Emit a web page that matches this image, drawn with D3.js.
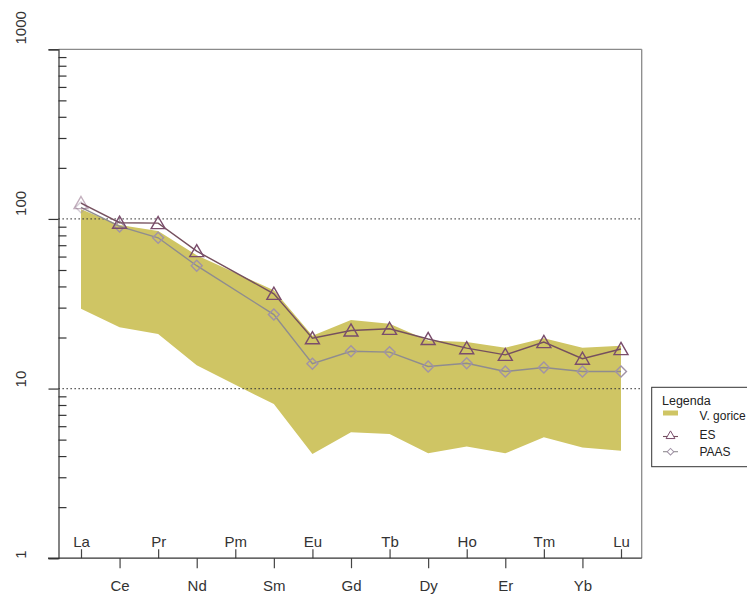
<!DOCTYPE html>
<html>
<head>
<meta charset="utf-8">
<script src="https://cdn.jsdelivr.net/npm/d3@7"></script>
<style>
  html, body { margin: 0; padding: 0; background: #fff; }
  svg { display: block; }
  text { font-family: "Liberation Sans", Arial, sans-serif; }
</style>
</head>
<body>
<svg id="chart" width="747" height="594"></svg>
<script>
// ---- data ----
const elements = ["La","Ce","Pr","Nd","Pm","Sm","Eu","Gd","Tb","Dy","Ho","Er","Tm","Yb","Lu"];
const esValues   = [124, 95, 94.5, 64.6, null, 36.2, 19.8, 22.0, 22.5, 19.6, 17.3, 15.8, 18.8, 15.0, 17.1];
const paasValues = [117, 90.3, 77.4, 53.0, null, 27.3, 14.0, 16.6, 16.4, 13.5, 14.1, 12.6, 13.3, 12.6, 12.6];
const bandMax    = [114, 92, 85, 61, null, 38, 20.5, 25.4, 24.1, 19.2, 18.8, 17.4, 19.8, 17.4, 17.9];
const bandMin    = [29.5, 23.0, 21.0, 13.7, null, 8.1, 4.12, 5.52, 5.4, 4.15, 4.55, 4.15, 5.16, 4.5, 4.3];
const yMajorTicks = [1, 10, 100, 1000];
const refLines = [10, 100];
const legendLabels = ["V. gorice", "ES", "PAAS"];
const legendTitle = "Legenda";

// ---- layout ----
const L = 58.5, R = 641.7, T = 49.3, B = 558.2;
const svg = d3.select("#chart");

const x = d3.scalePoint().domain(elements).range([81, 621]);
const y = d3.scaleLog().domain([1, 1000]).range([B, T]);

const bandColor = "#cfc564";
const esColor = "#75505e";
const esMarker = "#7a4d6c";
const paasColor = "#8f8c8f";
const paasMarker = "#a193a6";

const triSym = d3.symbol().type(d3.symbolTriangle);
const sqSym = d3.symbol().type(d3.symbolSquare);

// ---- band ----
const bandData = elements.map((e, i) => ({e, lo: bandMin[i], hi: bandMax[i]})).filter(d => d.lo != null);
svg.append("path")
  .datum(bandData)
  .attr("fill", bandColor)
  .attr("d", d3.area().x(d => x(d.e)).y0(d => y(d.lo)).y1(d => y(d.hi)));

// ---- reference dotted lines ----
svg.selectAll(".ref").data(refLines).enter().append("line")
  .attr("x1", L).attr("x2", R)
  .attr("y1", d => y(d)).attr("y2", d => y(d))
  .attr("stroke", "#3a3a3a").attr("stroke-width", 1.2)
  .attr("stroke-dasharray", "1.3,2.7");

// ---- series ----
function series(values, lineColor, markerColor, kind) {
  const pts = elements.map((e, i) => ({e, v: values[i], i})).filter(d => d.v != null);
  svg.append("path").datum(pts)
    .attr("fill", "none").attr("stroke", lineColor).attr("stroke-width", 1.4)
    .attr("d", d3.line().x(d => x(d.e)).y(d => y(d.v)));
  svg.selectAll(null).data(pts).enter().append("path")
    .attr("d", kind === "tri" ? triSym.size(85)() : sqSym.size(60)())
    .attr("transform", d => kind === "tri"
      ? `translate(${x(d.e)},${y(d.v) + 1.5})`
      : `translate(${x(d.e)},${y(d.v)}) rotate(45)`)
    .attr("fill", "none")
    .attr("stroke", markerColor)
    .attr("stroke-width", 1.4)
    .attr("opacity", d => d.i === 0 ? 0.45 : 1);
}
series(paasValues, paasColor, paasMarker, "dia");
series(esValues, esColor, esMarker, "tri");

// ---- frame ----
svg.append("line").attr("x1", L).attr("x2", R).attr("y1", T).attr("y2", T).attr("stroke", "#8a8a8a").attr("stroke-width", 1.3);
svg.append("line").attr("x1", R).attr("x2", R).attr("y1", T).attr("y2", B).attr("stroke", "#8a8a8a").attr("stroke-width", 1.3);

// ---- y axis ----
const minorTicks = [];
[1, 10, 100].forEach(dec => { for (let k = 2; k <= 9; k++) minorTicks.push(dec * k); });
const yAxisMajor = svg.append("g").attr("transform", `translate(${L},0)`)
  .call(d3.axisLeft(y).tickValues(yMajorTicks).tickSize(10).tickFormat(d3.format("d")));
yAxisMajor.select(".domain").attr("stroke", "#333").attr("stroke-width", 1.2);
yAxisMajor.selectAll(".tick line").attr("stroke", "#333").attr("stroke-width", 1.2);
yAxisMajor.selectAll(".tick text")
  .attr("font-size", 15).attr("fill", "#333")
  .attr("text-anchor", "middle")
  .attr("x", 0).attr("dy", 0)
  .attr("transform", function(d) {
    const len = String(d).length;
    return `translate(${-L + 26},${-(6 * len - 2)}) rotate(-90)`;
  });
const yAxisMinor = svg.append("g").attr("transform", `translate(${L},0)`)
  .call(d3.axisRight(y).tickValues(minorTicks).tickSize(8).tickFormat(""));
yAxisMinor.select(".domain").remove();
yAxisMinor.selectAll(".tick line").attr("stroke", "#333").attr("stroke-width", 1.2);

// ---- x axis ----
const upper = elements.filter((e, i) => i % 2 === 0);
const lower = elements.filter((e, i) => i % 2 === 1);
const xAxisUp = svg.append("g").attr("transform", `translate(0,${B})`)
  .call(d3.axisTop(x).tickValues(upper).tickSize(9).tickPadding(2));
xAxisUp.select(".domain").remove();
xAxisUp.selectAll(".tick line").attr("stroke", "#444").attr("stroke-width", 1.2);
xAxisUp.selectAll(".tick text").attr("font-size", 15).attr("fill", "#333");

const xAxisDown = svg.append("g").attr("transform", `translate(0,${B})`)
  .call(d3.axisBottom(x).tickValues(lower).tickSize(10).tickPadding(12));
xAxisDown.select(".domain").remove();
xAxisDown.selectAll(".tick line").attr("stroke", "#444").attr("stroke-width", 1.2);
xAxisDown.selectAll(".tick text").attr("font-size", 15).attr("fill", "#333");

svg.append("line").attr("x1", 48).attr("x2", R).attr("y1", B).attr("y2", B).attr("stroke", "#333").attr("stroke-width", 1.3);

// ---- legend ----
const lg = svg.append("g");
lg.append("rect").attr("x", 651.7).attr("y", 387.3).attr("width", 120).attr("height", 79.4)
  .attr("fill", "#fff").attr("stroke", "#333").attr("stroke-width", 1);
lg.append("text").attr("x", 662).attr("y", 405).attr("font-size", 12.5).attr("fill", "#222").text(legendTitle);
const rowY = [413, 436.5, 451.7];
const textY = [419.5, 439, 455.5];
lg.append("rect").attr("x", 663).attr("y", rowY[0] - 2.5).attr("width", 15).attr("height", 5).attr("fill", bandColor);
lg.append("line").attr("x1", 663).attr("x2", 678).attr("y1", rowY[1]).attr("y2", rowY[1]).attr("stroke", esColor).attr("stroke-width", 1.1);
lg.append("path").attr("d", triSym.size(34)()).attr("transform", `translate(670.5,${rowY[1] - 0.5})`)
  .attr("fill", "#fff").attr("stroke", esMarker).attr("stroke-width", 1);
lg.append("line").attr("x1", 663).attr("x2", 678).attr("y1", rowY[2]).attr("y2", rowY[2]).attr("stroke", paasColor).attr("stroke-width", 1.1);
lg.append("path").attr("d", sqSym.size(22)()).attr("transform", `translate(670.5,${rowY[2]}) rotate(45)`)
  .attr("fill", "#fff").attr("stroke", paasMarker).attr("stroke-width", 1);
legendLabels.forEach((t, i) => {
  lg.append("text").attr("x", 699.5).attr("y", textY[i]).attr("font-size", 12).attr("fill", "#222").text(t);
});
</script>
</body>
</html>
